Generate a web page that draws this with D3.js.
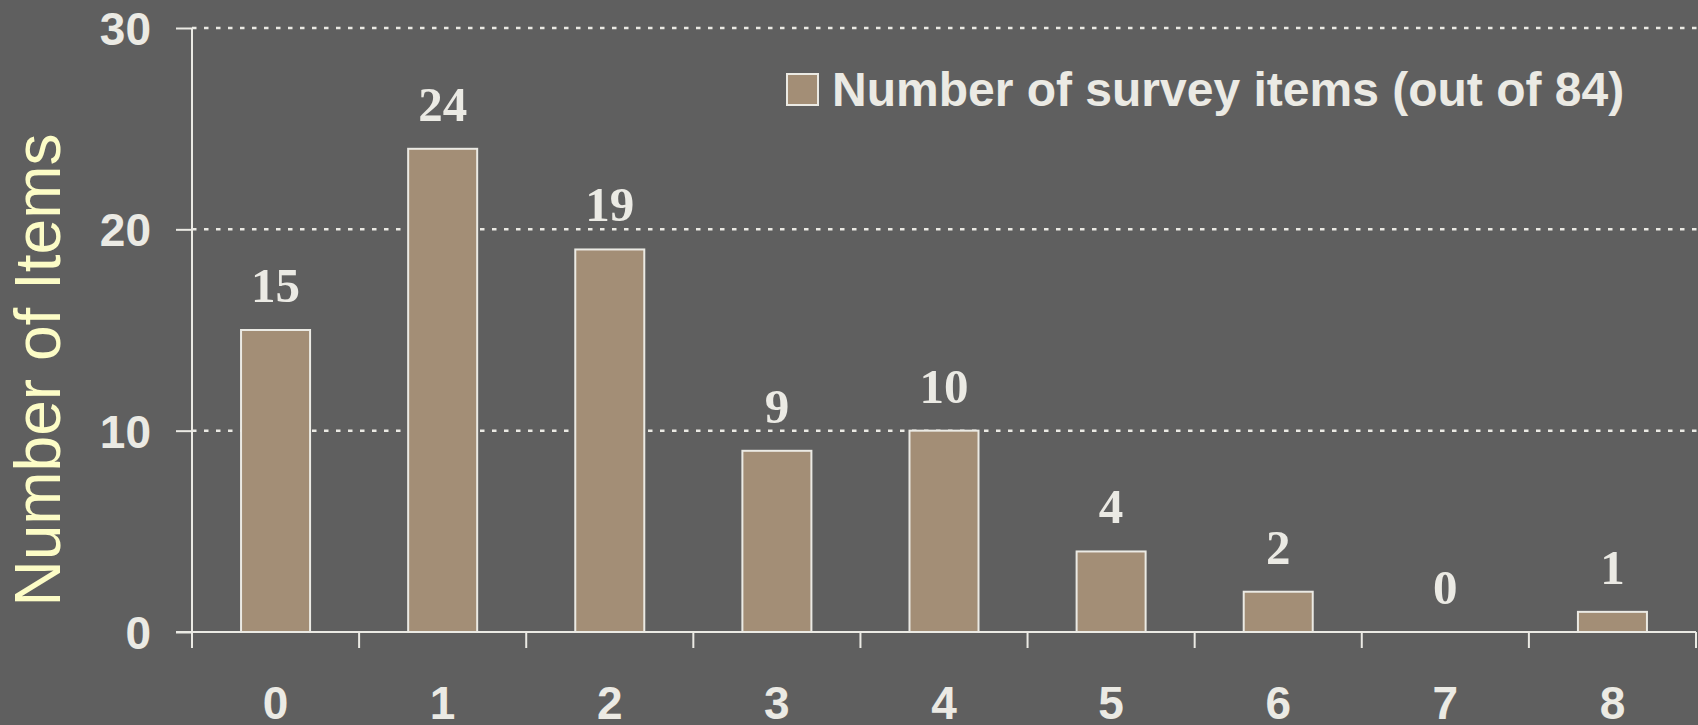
<!DOCTYPE html>
<html>
<head>
<meta charset="utf-8">
<script src="https://cdn.jsdelivr.net/npm/d3@7/dist/d3.min.js"></script>
<style>
  html, body { margin: 0; padding: 0; background: #5f5f5f; }
  svg { display: block; }
</style>
</head>
<body>
<svg id="chart" width="1698" height="725"></svg>
<script>
// Number of survey items per count category
const categories = ["0", "1", "2", "3", "4", "5", "6", "7", "8"];
const itemCounts = [15, 24, 19, 9, 10, 4, 2, 0, 1];
const yTicks = [0, 10, 20, 30];
const legendLabel = "Number of survey items (out of 84)";
const yTitle = "Number of Items";

const W = 1698, H = 725;
const plot = { left: 192, right: 1696, top: 28, bottom: 632 };
const textColor = "#ebeae4";
const barFill = "#a38e76";

const svg = d3.select("#chart");
svg.append("rect").attr("width", W).attr("height", H).attr("fill", "#5f5f5f");

const x = d3.scaleBand().domain(categories).range([plot.left, plot.right]).padding(0);
const y = d3.scaleLinear().domain([0, 30]).range([plot.bottom, plot.top]);
const barW = x.bandwidth() * 0.413;

// dotted horizontal gridlines
svg.append("g")
  .selectAll("line")
  .data(yTicks.filter(d => d > 0))
  .join("line")
  .attr("x1", plot.left)
  .attr("x2", W)
  .attr("y1", d => y(d))
  .attr("y2", d => y(d))
  .attr("stroke", textColor)
  .attr("stroke-width", 2.5)
  .attr("stroke-dasharray", "4.5,7.5");

// bars
svg.append("g")
  .selectAll("rect")
  .data(itemCounts)
  .join("rect")
  .attr("x", (d, i) => x(categories[i]) + (x.bandwidth() - barW) / 2)
  .attr("y", d => y(d))
  .attr("width", barW)
  .attr("height", d => y(0) - y(d))
  .attr("fill", barFill)
  .attr("stroke", d => d > 0 ? textColor : "none")
  .attr("stroke-width", 2);

// value labels
svg.append("g")
  .selectAll("text")
  .data(itemCounts)
  .join("text")
  .attr("x", (d, i) => x(categories[i]) + x.bandwidth() / 2)
  .attr("y", d => y(d) - 28)
  .attr("text-anchor", "middle")
  .attr("font-family", "'Liberation Serif', 'Times New Roman', serif")
  .attr("font-weight", "bold")
  .attr("font-size", 49)
  .attr("fill", textColor)
  .text(d => d);

// y axis
const yAxis = svg.append("g")
  .attr("transform", `translate(${plot.left},0)`)
  .call(d3.axisLeft(y).tickValues(yTicks).tickSize(16).tickPadding(25).tickSizeOuter(0));
yAxis.select(".domain").remove();
yAxis.selectAll(".tick line").attr("stroke", textColor).attr("stroke-width", 2);
yAxis.selectAll(".tick text")
  .attr("font-family", "'Liberation Sans', Arial, sans-serif")
  .attr("font-weight", "bold")
  .attr("font-size", 46)
  .attr("fill", textColor)
  .attr("dy", "0.36em");
svg.append("line")
  .attr("x1", plot.left).attr("x2", plot.left)
  .attr("y1", y(30)).attr("y2", y(0) + 16)
  .attr("stroke", textColor).attr("stroke-width", 2);

// x axis: baseline, boundary ticks and centred category labels
svg.append("line")
  .attr("x1", plot.left - 16).attr("x2", plot.right)
  .attr("y1", y(0)).attr("y2", y(0))
  .attr("stroke", textColor).attr("stroke-width", 2);
svg.append("g")
  .selectAll("line")
  .data(d3.range(categories.length + 1))
  .join("line")
  .attr("x1", i => plot.left + i * x.step())
  .attr("x2", i => plot.left + i * x.step())
  .attr("y1", y(0))
  .attr("y2", y(0) + 16)
  .attr("stroke", textColor)
  .attr("stroke-width", 2);
const xAxis = svg.append("g")
  .attr("transform", `translate(0,${y(0)})`)
  .call(d3.axisBottom(x).tickSize(0).tickPadding(0));
xAxis.select(".domain").remove();
xAxis.selectAll(".tick text")
  .attr("y", 87)
  .attr("dy", 0)
  .attr("font-family", "'Liberation Sans', Arial, sans-serif")
  .attr("font-weight", "bold")
  .attr("font-size", 46)
  .attr("fill", textColor);

// y axis title
svg.append("text")
  .attr("transform", `translate(60,370) rotate(-90)`)
  .attr("text-anchor", "middle")
  .attr("font-family", "'Liberation Sans', Arial, sans-serif")
  .attr("font-size", 64)
  .attr("fill", "#fcfcc6")
  .text(yTitle);

// legend
const legend = svg.append("g");
legend.append("rect")
  .attr("x", 787).attr("y", 74)
  .attr("width", 31).attr("height", 31)
  .attr("fill", barFill)
  .attr("stroke", textColor)
  .attr("stroke-width", 2);
legend.append("text")
  .attr("x", 832).attr("y", 106)
  .attr("font-family", "'Liberation Sans', Arial, sans-serif")
  .attr("font-weight", "bold")
  .attr("font-size", 48)
  .attr("fill", textColor)
  .text(legendLabel);
</script>
</body>
</html>
